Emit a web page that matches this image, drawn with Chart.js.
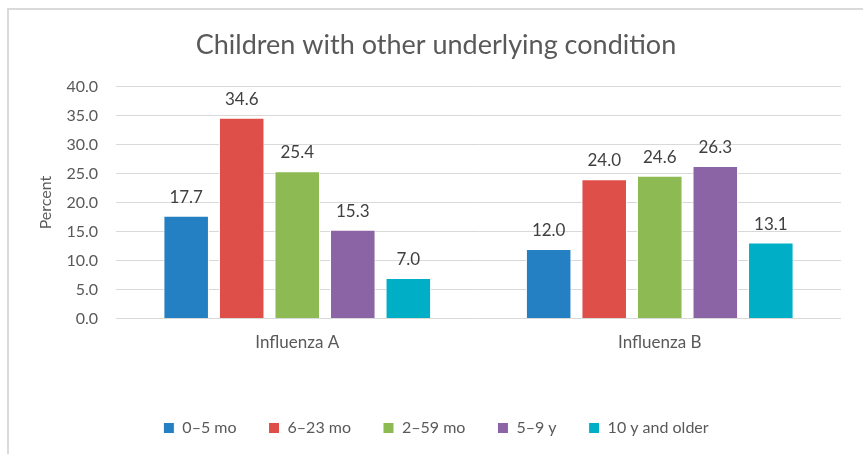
<!DOCTYPE html>
<html>
<head>
<meta charset="utf-8">
<script src="https://cdn.jsdelivr.net/npm/chart.js@4/dist/chart.umd.min.js"></script>
<style>
  html, body { margin: 0; padding: 0; background: #fff; overflow: hidden; }
  #frame { position: absolute; left: 7px; top: 8px; width: 870px; height: 460px; border-left: 2px solid #dadada; border-top: 2px solid #dadada; }
  #wrap { position: absolute; left: 0; top: 0; width: 890px; height: 454px; }
</style>
</head>
<body>
<div id="frame"></div>
<div id="wrap"><canvas id="chart"></canvas></div>
<script>
// Categories and series
const categories = ['Influenza A', 'Influenza B'];
const seriesNames = ['0\u20135 mo', '6\u201323 mo', '2\u201359 mo', '5\u20139 y', '10 y and older'];
const age0to5mo = [17.7, 12.0];
const age6to23mo = [34.6, 24.0];
const age2to59mo = [25.4, 24.6];
const age5to9y = [15.3, 26.3];
const age10plus = [7.0, 13.1];
const seriesColors = ['#2480C3', '#DE4F4A', '#8DBA53', '#8A64A5', '#00AEC6'];
const yTicks = [0, 5, 10, 15, 20, 25, 30, 35, 40];

const seriesValues = [age0to5mo, age6to23mo, age2to59mo, age5to9y, age10plus];
const fontFamily = 'Lato, "Open Sans", sans-serif';

// Draws the value above each bar
const valueLabels = {
    id: 'valueLabels',
    afterDatasetsDraw(chart) {
        const ctx = chart.ctx;
        ctx.save();
        ctx.font = '17px ' + fontFamily;
        ctx.fillStyle = '#404040';
        ctx.textAlign = 'center';
        ctx.textBaseline = 'bottom';
        chart.data.datasets.forEach((ds, i) => {
            chart.getDatasetMeta(i).data.forEach((bar, j) => {
                ctx.fillText(ds.data[j].toFixed(1), bar.x, bar.y - 10);
            });
        });
        ctx.restore();
    }
};

new Chart(document.getElementById('chart').getContext('2d'), {
    type: 'bar',
    data: {
        labels: categories,
        datasets: seriesNames.map((name, i) => ({
            label: name,
            data: seriesValues[i],
            backgroundColor: seriesColors[i],
            borderColor: '#ffffff',
            borderWidth: 1,
            categoryPercentage: 0.766,
            barPercentage: 0.82
        }))
    },
    options: {
        responsive: true,
        maintainAspectRatio: false,
        animation: false,
        layout: { padding: { left: 31, right: 49, top: 0, bottom: 8 } },
        scales: {
            y: {
                min: 0,
                max: 40,
                afterBuildTicks: scale => { scale.ticks = yTicks.map(v => ({ value: v })); },
                afterFit: scale => { scale.width = 85; },
                border: { display: false },
                grid: { color: '#d9d9d9', drawTicks: false },
                ticks: {
                    padding: 18,
                    color: '#595959',
                    font: { size: 16, family: fontFamily },
                    callback: v => v.toFixed(1)
                },
                title: {
                    display: true,
                    text: 'Percent',
                    color: '#595959',
                    font: { size: 16, family: fontFamily },
                    padding: { top: 5, bottom: 4 }
                }
            },
            x: {
                afterFit: scale => { scale.height += 29; },
                border: { display: false },
                grid: { display: false },
                ticks: {
                    padding: 6,
                    color: '#595959',
                    font: { size: 17, family: fontFamily }
                }
            }
        },
        plugins: {
            title: {
                display: true,
                text: 'Children with other underlying condition',
                color: '#595959',
                font: { size: 27, weight: 'normal', family: fontFamily },
                padding: { top: 29, bottom: 25 }
            },
            legend: {
                position: 'bottom',
                labels: {
                    color: '#595959',
                    font: { size: 16, family: fontFamily },
                    boxWidth: 11,
                    boxHeight: 11,
                    padding: 32
                }
            },
            tooltip: { enabled: false }
        }
    },
    plugins: [valueLabels]
});
</script>
</body>
</html>
